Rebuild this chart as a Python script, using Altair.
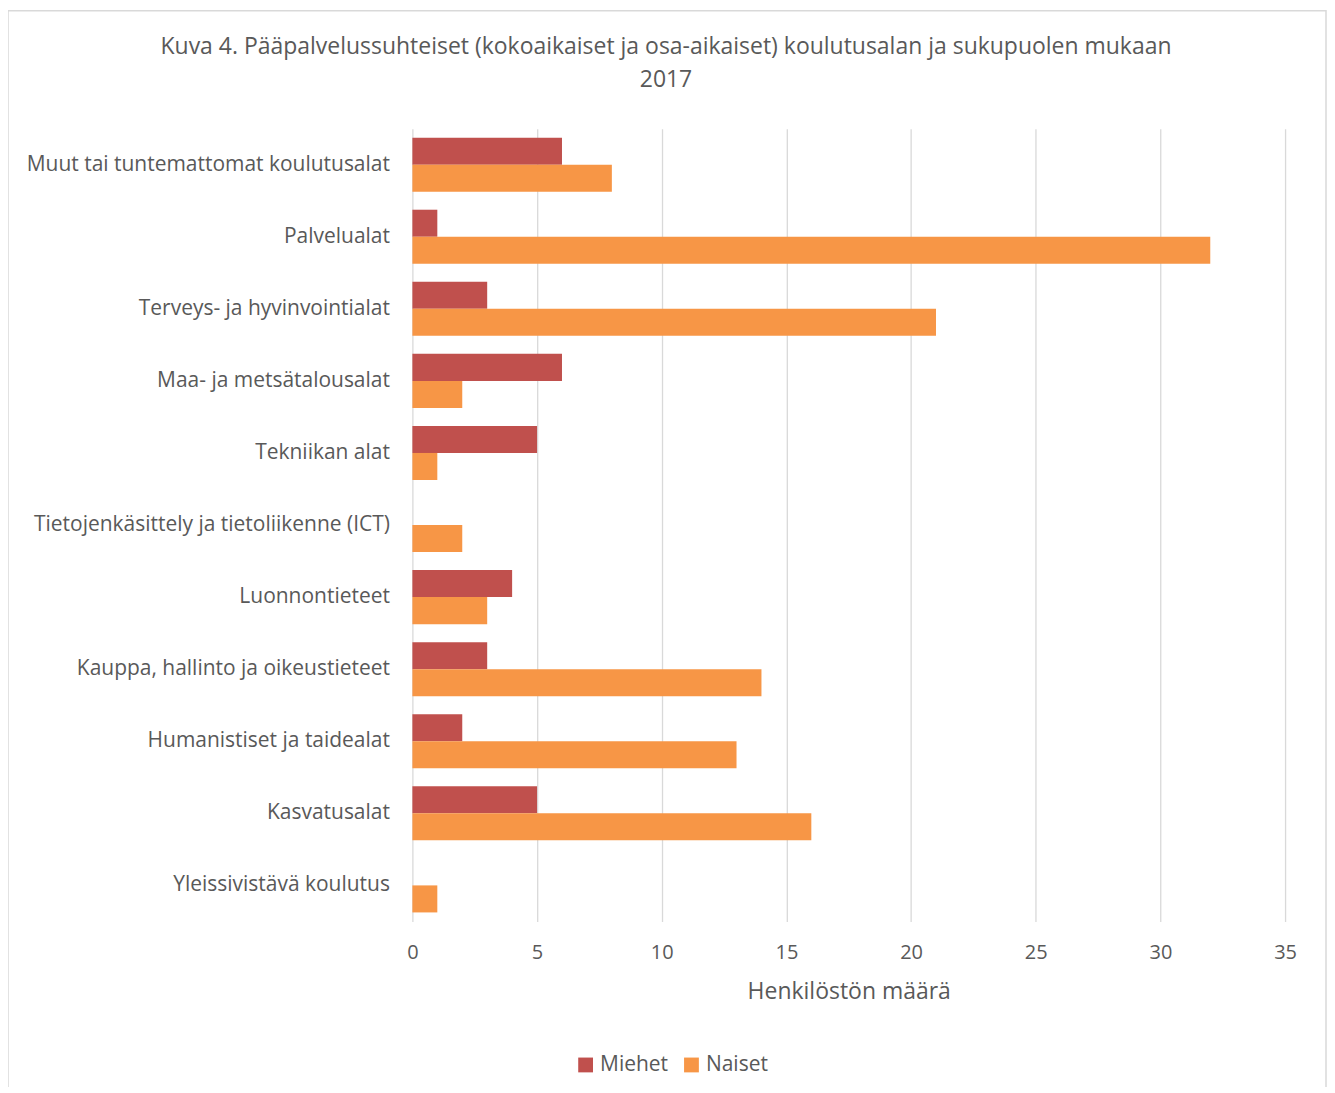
import altair as alt
import pandas as pd

categories = [
    "Muut tai tuntemattomat koulutusalat",
    "Palvelualat",
    "Terveys- ja hyvinvointialat",
    "Maa- ja metsätalousalat",
    "Tekniikan alat",
    "Tietojenkäsittely ja tietoliikenne (ICT)",
    "Luonnontieteet",
    "Kauppa, hallinto ja oikeustieteet",
    "Humanistiset ja taidealat",
    "Kasvatusalat",
    "Yleissivistävä koulutus",
]
miehet = [6, 1, 3, 6, 5, 0, 4, 3, 2, 5, 0]
naiset = [8, 32, 21, 2, 1, 2, 3, 14, 13, 16, 1]
series = ["Miehet", "Naiset"]
colors = ["#C0504D", "#F79646"]

rows = []
for c, m, n in zip(categories, miehet, naiset):
    rows.append({"ala": c, "sukupuoli": "Miehet", "arvo": m})
    rows.append({"ala": c, "sukupuoli": "Naiset", "arvo": n})
df = pd.DataFrame(rows)

FONT = "Open Sans"
TXT = "#595959"

border = alt.Chart(pd.DataFrame({"a": [0]})).mark_rect(
    fillOpacity=0, stroke="#d9d9d9", strokeWidth=1.5
).encode(
    x=alt.value(-405), x2=alt.value(915), y=alt.value(-118), y2=alt.value(1000)
)

bars = alt.Chart(df).mark_bar().encode(
    y=alt.Y("ala:N", sort=categories, scale=alt.Scale(paddingInner=0.25, paddingOuter=0.125),
            axis=alt.Axis(title=None, ticks=False, domain=False, labelPadding=23,
                          labelFontSize=21, labelColor=TXT, labelFont=FONT, labelLimit=420)),
    yOffset=alt.YOffset("sukupuoli:N", sort=series),
    x=alt.X("arvo:Q", scale=alt.Scale(domain=[0, 35]),
            axis=alt.Axis(title="Henkilöstön määrä", values=[0, 5, 10, 15, 20, 25, 30, 35],
                          ticks=False, domain=False, grid=True,
                          gridColor="#d9d9d9", gridWidth=1.3,
                          labelFontSize=20, labelColor=TXT, labelFont=FONT, labelPadding=21,
                          labelFlush=False, labelOverlap=False,
                          titleFontSize=23, titleColor=TXT, titleFont=FONT,
                          titleFontWeight="normal", titlePadding=18)),
    color=alt.Color("sukupuoli:N", sort=series,
                    scale=alt.Scale(domain=series, range=colors),
                    legend=alt.Legend(title=None, orient="none", direction="horizontal",
                                      legendX=163, legendY=927, symbolType="square",
                                      symbolSize=220, symbolStrokeWidth=0,
                                      labelFontSize=21, labelColor=TXT, labelFont=FONT,
                                      columnPadding=12, labelOffset=4)),
)

chart = alt.layer(border, bars).properties(
    width=874,
    height=794,
    autosize=alt.AutoSizeParams(type="none"),
    padding={"left": 405, "top": 120, "right": 42, "bottom": 165},
    title=alt.TitleParams(
        text=["Kuva 4. Pääpalvelussuhteiset (kokoaikaiset ja osa-aikaiset) koulutusalan ja sukupuolen mukaan", "2017"],
        anchor="middle", dx=-183, dy=116, offset=34, fontSize=23, font=FONT, fontWeight="normal",
        color=TXT, lineHeight=33,
    ),
).configure_view(stroke=None)

chart.save("out.html", embed_options={"renderer": "svg", "actions": False})
